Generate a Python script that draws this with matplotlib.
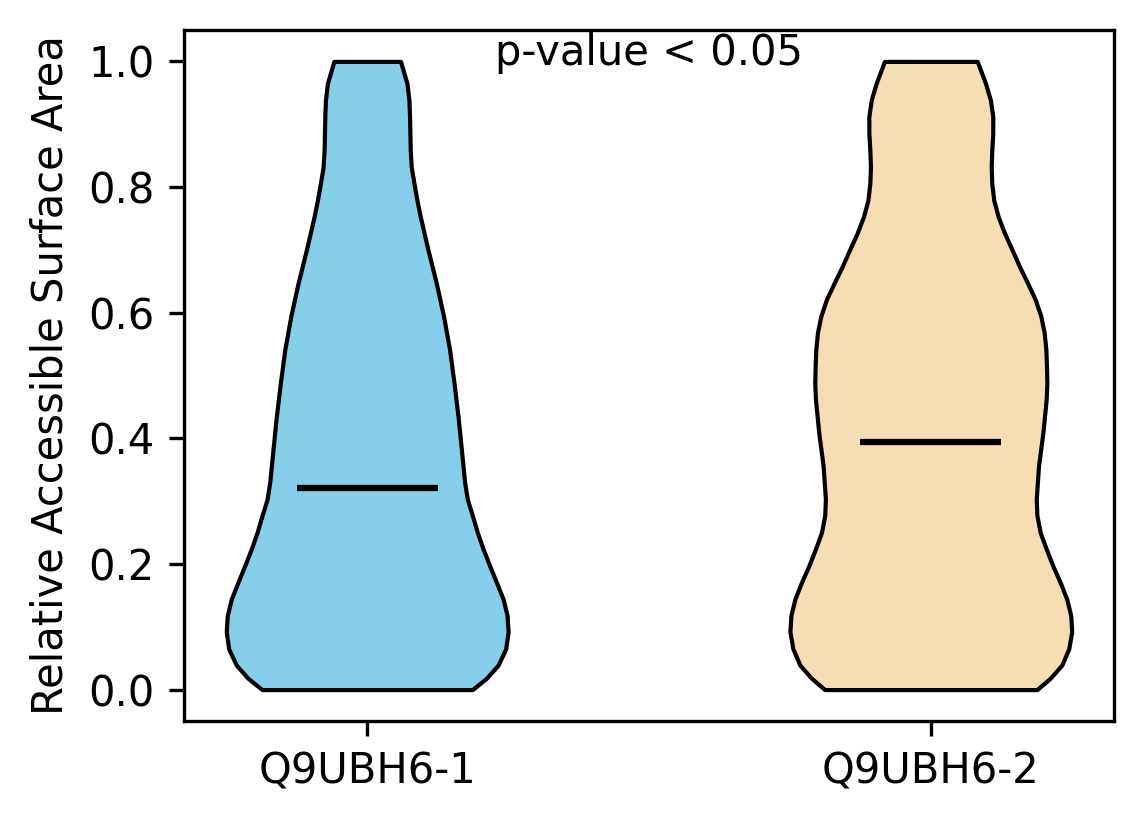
import matplotlib
matplotlib.use("Agg")
import matplotlib.pyplot as plt
import numpy as np

# groups and their colours
labels = ['Q9UBH6-1', 'Q9UBH6-2']
colors = ['skyblue', 'wheat']
medians = [0.321, 0.394]

# density profile (relative width at each RSA level)
rsa_1 = [0.000, 0.018, 0.039, 0.065, 0.092, 0.118, 0.144, 0.171, 0.197, 0.224,
         0.250, 0.277, 0.303, 0.330, 0.383, 0.435, 0.488, 0.541, 0.594, 0.647,
         0.700, 0.753, 0.779, 0.806, 0.832, 0.859, 0.912, 0.938, 0.965, 1.000]
dens_1 = [105.0, 119.0, 130.7, 138.3, 140.7, 139.7, 135.7, 129.0, 122.3, 115.7,
          110.0, 105.0, 100.0, 97.3, 94.0, 90.7, 86.7, 82.3, 76.3, 69.0,
          60.7, 53.0, 49.7, 46.7, 44.0, 43.0, 42.3, 41.7, 39.7, 33.3]

rsa_2 = [0.000, 0.018, 0.039, 0.065, 0.092, 0.118, 0.144, 0.171, 0.197, 0.224,
         0.250, 0.277, 0.303, 0.356, 0.409, 0.462, 0.488, 0.515, 0.541, 0.568,
         0.594, 0.621, 0.647, 0.673, 0.700, 0.727, 0.753, 0.779, 0.806, 0.832,
         0.859, 0.885, 0.912, 0.938, 0.965, 1.000]
dens_2 = [106.7, 120.0, 131.7, 138.7, 141.7, 140.7, 136.7, 130.0, 122.7, 116.0,
          110.0, 106.7, 106.0, 108.3, 112.7, 116.0, 116.7, 116.3, 115.7, 114.0,
          110.7, 105.0, 97.3, 89.3, 81.7, 74.0, 67.7, 63.3, 61.3, 60.7,
          61.3, 62.3, 62.3, 60.0, 55.0, 46.7]

profiles = [(rsa_1, dens_1), (rsa_2, dens_2)]

vpstats = []
for (ys, ds), med in zip(profiles, medians):
    ys = np.array(ys)
    vpstats.append({'coords': ys, 'vals': np.array(ds), 'mean': np.nan,
                    'median': med, 'min': ys.min(), 'max': ys.max()})

fig = plt.figure(figsize=(1144 / 300, 824 / 300), dpi=300)
ax = fig.add_axes([184 / 1144, 1 - 721 / 824, 930 / 1144, 691 / 824])

parts = ax.violin(vpstats, positions=[1, 2], widths=0.5,
                  showmeans=False, showextrema=False, showmedians=True)
for body, c in zip(parts['bodies'], colors):
    body.set_facecolor(c)
    body.set_edgecolor('black')
    body.set_linewidth(1)
    body.set_alpha(1)
parts['cmedians'].set_color('black')
parts['cmedians'].set_linewidth(1.5)

ax.set_xticks([1, 2])
ax.set_xticklabels(labels)
ax.set_ylabel('Relative Accessible Surface Area')
ax.text(0.5, 0.95, 'p-value < 0.05', transform=ax.transAxes, ha='center')

fig.savefig('out.png', dpi=300)
